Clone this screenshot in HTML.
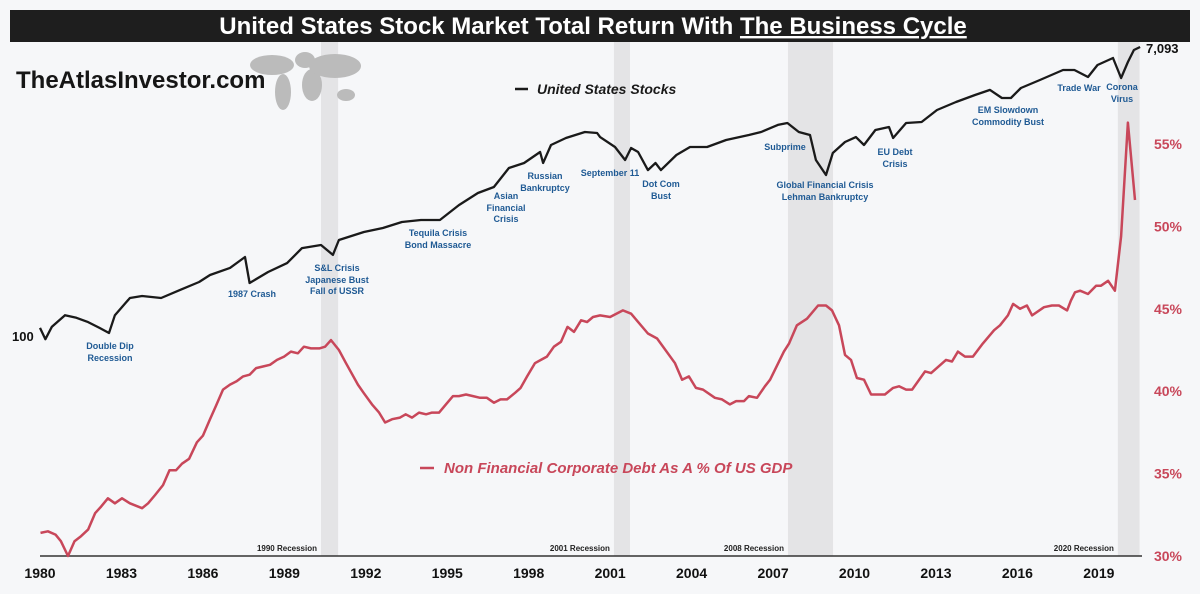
<!DOCTYPE html>
<html><head><meta charset="utf-8">
<style>
body{margin:0;background:#f6f7f9;}
svg{display:block;font-family:"Liberation Sans",sans-serif;}
.ann{fill:#1f5a94;font-size:9px;font-weight:bold;text-anchor:middle;}
.rec{fill:#222;font-size:8px;font-weight:bold;text-anchor:end;}
.xt{fill:#111;font-size:14px;font-weight:bold;text-anchor:middle;}
.yt{fill:#c8475a;font-size:14px;font-weight:bold;text-anchor:middle;}
</style></head>
<body>
<svg id="chart" width="1200" height="594" viewBox="0 0 1200 594">
<rect x="0" y="0" width="1200" height="594" fill="#f6f7f9"/>
<g id="shades"></g>
<rect x="10" y="10" width="1180" height="32" fill="#1e1e1e"/>
<text x="593" y="34" fill="#fff" font-size="24" font-weight="bold" text-anchor="middle">United States Stock Market Total Return With <tspan text-decoration="underline">The Business Cycle</tspan></text>
<g fill="#bbb">
<ellipse cx="272" cy="65" rx="22" ry="10"/><ellipse cx="283" cy="92" rx="8" ry="18"/>
<ellipse cx="305" cy="60" rx="10" ry="8"/><ellipse cx="312" cy="85" rx="10" ry="16"/>
<ellipse cx="335" cy="66" rx="26" ry="12"/><ellipse cx="346" cy="95" rx="9" ry="6"/>
</g>
<text x="16" y="88" fill="#161616" font-size="24" font-weight="bold">TheAtlasInvestor.com</text>
<g>
<line x1="515" y1="89" x2="528" y2="89" stroke="#1a1a1a" stroke-width="2.5"/>
<text x="537" y="94" fill="#1a1a1a" font-size="14" font-weight="bold" font-style="italic">United States Stocks</text>
</g>
<g>
<line x1="420" y1="468" x2="434" y2="468" stroke="#c8475a" stroke-width="2.5"/>
<text x="444" y="473" fill="#c8475a" font-size="15" font-weight="bold" font-style="italic">Non Financial Corporate Debt As A % Of US GDP</text>
</g>
<g id="xaxis"></g>
<g id="yaxis"></g>
<path id="debtLine" fill="none" stroke="#c8475a" stroke-width="2.5" stroke-linejoin="round"/>
<path id="stockLine" fill="none" stroke="#1a1a1a" stroke-width="2.3" stroke-linejoin="round"/>
<text x="12" y="341" fill="#111" font-size="13" font-weight="bold">100</text>
<text x="1146" y="53" fill="#111" font-size="13" font-weight="bold">7,093</text>
<g>
<text class="ann" x="110" y="349">Double Dip</text><text class="ann" x="110" y="361">Recession</text>
<text class="ann" x="252" y="297">1987 Crash</text>
<text class="ann" x="337" y="271">S&amp;L Crisis</text><text class="ann" x="337" y="283">Japanese Bust</text><text class="ann" x="337" y="294">Fall of USSR</text>
<text class="ann" x="438" y="236">Tequila Crisis</text><text class="ann" x="438" y="248">Bond Massacre</text>
<text class="ann" x="506" y="199">Asian</text><text class="ann" x="506" y="211">Financial</text><text class="ann" x="506" y="222">Crisis</text>
<text class="ann" x="545" y="179">Russian</text><text class="ann" x="545" y="191">Bankruptcy</text>
<text class="ann" x="610" y="176">September 11</text>
<text class="ann" x="661" y="187">Dot Com</text><text class="ann" x="661" y="199">Bust</text>
<text class="ann" x="785" y="150">Subprime</text>
<text class="ann" x="825" y="188">Global Financial Crisis</text><text class="ann" x="825" y="200">Lehman Bankruptcy</text>
<text class="ann" x="895" y="155">EU Debt</text><text class="ann" x="895" y="167">Crisis</text>
<text class="ann" x="1008" y="113">EM Slowdown</text><text class="ann" x="1008" y="125">Commodity Bust</text>
<text class="ann" x="1079" y="91">Trade War</text>
<text class="ann" x="1122" y="90">Corona</text><text class="ann" x="1122" y="102">Virus</text>
</g>
<g id="recLabels"></g>
</svg>
<script>
const xTicks=[1980,1983,1986,1989,1992,1995,1998,2001,2004,2007,2010,2013,2016,2019];
const yTicks=[30,35,40,45,50,55];
const recStart=[1990.35,2001.14,2007.55,2019.7];
const recEnd=[1990.98,2001.73,2009.21,2020.5];
const recNames=["1990 Recession","2001 Recession","2008 Recession","2020 Recession"];
const debtYears=[1980.02,1980.29,1980.57,1980.77,1981.03,1981.27,1981.51,1981.77,1982.03,1982.25,1982.5,1982.76,1983.02,1983.31,1983.76,1983.98,1984.24,1984.53,1984.77,1985.01,1985.23,1985.49,1985.78,1986.0,1986.26,1986.48,1986.74,1987.0,1987.24,1987.48,1987.72,1987.96,1988.21,1988.47,1988.73,1988.99,1989.24,1989.5,1989.72,1989.98,1990.29,1990.5,1990.72,1991.01,1991.27,1991.71,1991.92,1992.23,1992.49,1992.71,1992.97,1993.26,1993.47,1993.7,1993.96,1994.22,1994.44,1994.7,1994.95,1995.21,1995.43,1995.69,1995.95,1996.21,1996.46,1996.72,1996.96,1997.2,1997.5,1997.7,1997.94,1998.23,1998.45,1998.67,1998.93,1999.19,1999.43,1999.67,1999.93,2000.15,2000.37,2000.63,2001.0,2001.47,2001.77,2002.39,2002.73,2003.39,2003.65,2003.9,2004.16,2004.42,2004.86,2005.12,2005.41,2005.64,2005.93,2006.11,2006.41,2006.7,2006.89,2007.4,2007.59,2007.88,2008.25,2008.66,2008.95,2009.17,2009.43,2009.65,2009.87,2010.09,2010.35,2010.61,2011.12,2011.42,2011.64,2011.9,2012.12,2012.6,2012.82,2013.37,2013.59,2013.81,2014.07,2014.36,2014.73,2015.14,2015.36,2015.65,2015.84,2016.1,2016.35,2016.54,2016.98,2017.27,2017.53,2017.83,2017.97,2018.12,2018.31,2018.6,2018.9,2019.08,2019.34,2019.59,2019.82,2020.07,2020.33];
const debtPct=[31.4,31.5,31.3,30.9,30.0,30.9,31.2,31.6,32.6,33.0,33.5,33.2,33.5,33.2,32.9,33.2,33.7,34.3,35.2,35.2,35.6,35.9,36.9,37.3,38.3,39.1,40.1,40.4,40.6,40.9,41.0,41.4,41.5,41.6,41.9,42.1,42.4,42.3,42.7,42.6,42.6,42.7,43.1,42.5,41.7,40.4,39.9,39.2,38.7,38.1,38.3,38.4,38.6,38.4,38.7,38.6,38.7,38.7,39.2,39.7,39.7,39.8,39.7,39.6,39.6,39.3,39.5,39.5,39.9,40.2,40.9,41.7,41.9,42.1,42.7,43.0,43.9,43.6,44.3,44.2,44.5,44.6,44.5,44.9,44.7,43.5,43.2,41.7,40.7,40.9,40.2,40.1,39.6,39.5,39.2,39.4,39.4,39.7,39.6,40.3,40.7,42.4,42.9,44.0,44.4,45.2,45.2,44.9,44.0,42.2,41.9,40.8,40.7,39.8,39.8,40.2,40.3,40.1,40.1,41.2,41.1,41.9,41.8,42.4,42.1,42.1,42.9,43.7,44.0,44.6,45.3,45.0,45.2,44.6,45.1,45.2,45.2,44.9,45.5,46.0,46.1,45.9,46.4,46.4,46.7,46.1,49.4,56.3,51.6];
const stockYears=[1980.0,1980.2,1980.44,1980.92,1981.34,1981.77,1982.19,1982.54,1982.76,1983.31,1983.76,1984.46,1985.16,1985.86,1986.26,1987.0,1987.55,1987.72,1988.4,1989.1,1989.65,1990.35,1990.79,1991.01,1991.93,1992.63,1993.33,1994.03,1994.73,1995.43,1996.13,1996.72,1997.27,1997.83,1998.42,1998.53,1998.82,1999.37,2000.07,2000.52,2000.63,2001.18,2001.55,2001.77,2002.03,2002.39,2002.67,2002.87,2003.44,2003.94,2004.57,2005.27,2006.11,2006.56,2007.18,2007.53,2007.95,2008.36,2008.58,2008.95,2009.2,2009.65,2010.05,2010.35,2010.77,2011.27,2011.42,2011.9,2012.47,2013.04,2013.74,2014.44,2014.99,2015.43,2015.76,2016.13,2016.83,2017.68,2018.1,2018.6,2018.95,2019.52,2019.82,2020.07,2020.29,2020.52];
const stockValues=[111,94,113,134,129,121,111,103,134,173,178,173,195,219,243,270,317,216,254,290,362,379,327,408,459,487,532,548,548,684,818,893,1184,1274,1500,1274,1663,1845,2018,1987,1871,1616,1333,1592,1500,1148,1274,1148,1435,1616,1616,1791,1928,2018,2239,2303,2018,1928,1333,1067,1479,1738,1871,1663,2076,2173,1845,2303,2338,2794,3143,3487,3758,3334,3334,3866,4355,5047,5047,4550,5433,6026,4487,5680,6788,7093];

const X=y=>40+(y-1980)*27.15;
const YR=p=>556-(p-30)*16.48;
const YL=v=>335-Math.log10(v/100)*155.6;
const NS="http://www.w3.org/2000/svg";
function mk(tag,attrs,parent){const e=document.createElementNS(NS,tag);for(const k in attrs)e.setAttribute(k,attrs[k]);parent.appendChild(e);return e;}

const sh=document.getElementById('shades');
recStart.forEach((s,i)=>{
  const r=mk('rect',{x:X(s),y:42,width:X(recEnd[i])-X(s),height:514,fill:'#e4e4e6'},sh);
  
  
});
const rl=document.getElementById('recLabels');
recNames.forEach((n,i)=>{
  const t=mk('text',{x:X(recStart[i])-4,y:551,class:'rec'},rl);t.textContent=n;
  
  
});
const xa=document.getElementById('xaxis');
const axl=mk('line',{x1:40,y1:556,x2:1142,y2:556,stroke:'#333','stroke-width':1.5},xa);


xTicks.forEach(t=>{
  const e=mk('text',{x:X(t),y:578,class:'xt'},xa);e.textContent=t;
  
  
});
const ya=document.getElementById('yaxis');
yTicks.forEach(t=>{
  const e=mk('text',{x:1168,y:YR(t)+5,class:'yt'},ya);e.textContent=t+'%';
  
  
});
document.getElementById('debtLine').setAttribute('d',debtYears.map((y,i)=>(i?'L':'M')+X(y).toFixed(1)+','+YR(debtPct[i]).toFixed(1)).join(''));
document.getElementById('stockLine').setAttribute('d',stockYears.map((y,i)=>(i?'L':'M')+X(y).toFixed(1)+','+YL(stockValues[i]).toFixed(1)).join(''));
</script>
</body></html>
